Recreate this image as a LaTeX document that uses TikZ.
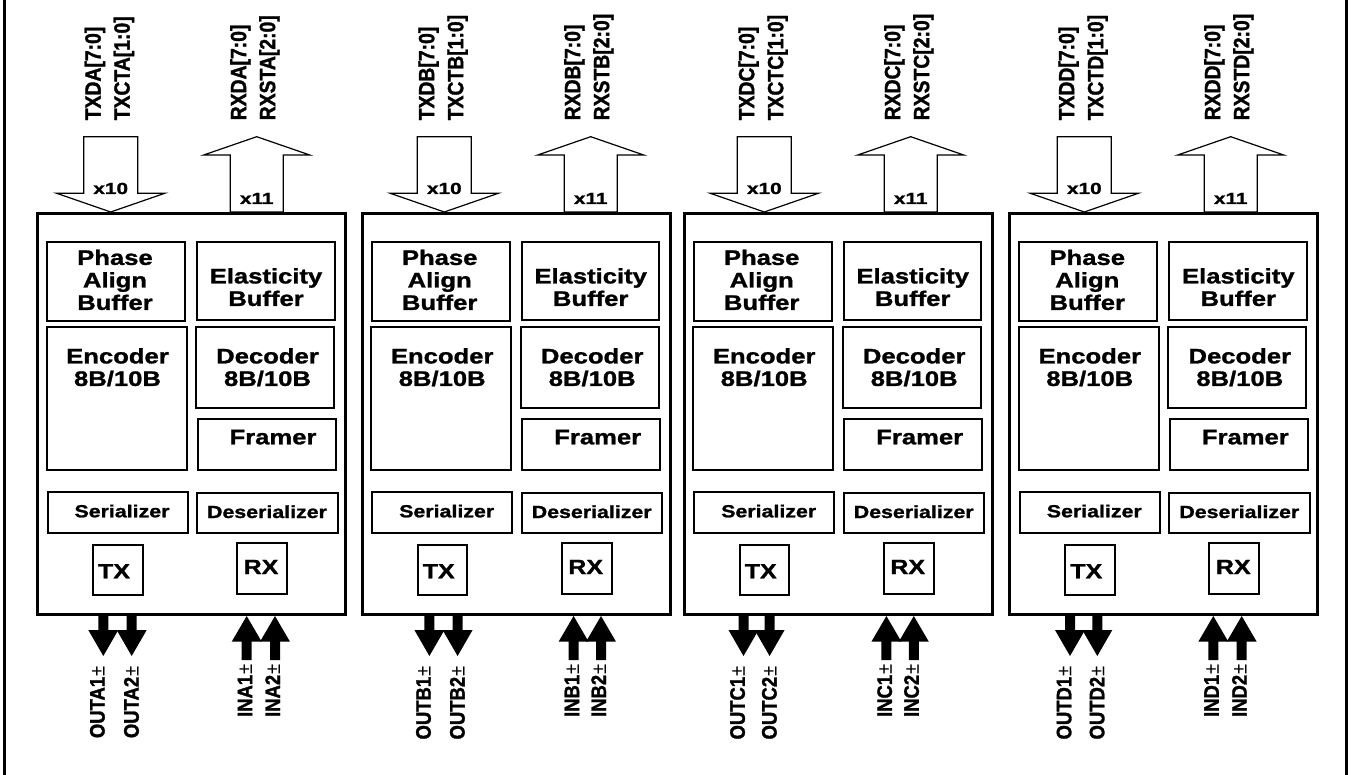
\documentclass[tikz,border=0pt]{standalone}
\usepackage{fontspec}
\setmainfont{Liberation Sans}
\newfontfamily\hfont{Liberation Sans}[FakeStretch=1.22, BoldFeatures={FakeBold=1.3}]
\newfontfamily\rfont{Liberation Sans}[FakeStretch=0.88, BoldFeatures={FakeBold=1.4}]
\newfontfamily\xfont{Liberation Sans}[FakeStretch=1.3, BoldFeatures={FakeBold=1.3}]
\tikzset{
 modbox/.style={draw, line width=3pt, rectangle, inner sep=0pt, anchor=north west},
 blk/.style={draw, line width=2pt, rectangle, inner sep=0pt, anchor=north west},
 ttl/.style={inner sep=0pt, align=center, anchor=north, font=\hfont\bfseries\fontsize{21}{22.5}\selectfont},
 sml/.style={inner sep=0pt, anchor=base, font=\hfont\bfseries\fontsize{17.5}{20}\selectfont},
 txrx/.style={inner sep=0pt, anchor=base, font=\hfont\bfseries\fontsize{20.5}{22}\selectfont},
 mult/.style={inner sep=0pt, anchor=base, font=\xfont\bfseries\fontsize{16}{18}\selectfont},
 toplbl/.style={inner sep=0pt, rotate=90, anchor=base west, font=\rfont\bfseries\fontsize{22}{24}\selectfont},
 botlbl/.style={inner sep=0pt, rotate=90, anchor=base east, font=\rfont\bfseries\fontsize{21}{24}\selectfont},
 busarrow/.style={draw, fill=white, line width=1.2pt, line join=miter},
 pinarrow/.style={fill=black},
 frameline/.style={line width=2.7pt},
}
\begin{document}
\begin{tikzpicture}[x=1pt,y=-1pt]
\useasboundingbox (0,0) rectangle (1351,775);
\draw[frameline] (4.7,0) -- (4.7,775);
\draw[frameline] (1346.7,0) -- (1346.7,775);
\foreach \Ltr/\xo/\dc/\uc/\oa/\ob/\ia/\ib in {
  A/36/110.7/256.7/103.3/131.7/246.7/275,
  B/360.7/444.3/590.7/429.4/457.6/573.6/601.0,
  C/682.7/764.3/910.7/743.5/769.6/886.4/913.8,
  D/1008.3/1084.3/1230.7/1070/1097.3/1213.3/1241.7}{
  % bus arrows
  \path[busarrow] (\dc-27,136.7) -- (\dc+27,136.7) -- (\dc+27,193.3) -- (\dc+54,193.3)
     -- (\dc,212) -- (\dc-54,193.3) -- (\dc-27,193.3) -- cycle;
  \path[busarrow] (\uc,136.7) -- (\uc+53,155) -- (\uc+26.5,155) -- (\uc+26.5,212)
     -- (\uc-26.5,212) -- (\uc-26.5,155) -- (\uc-53,155) -- cycle;
  \node[mult] (xa\Ltr) at (\dc,194) {x10};
  \node[mult] (xb\Ltr) at (\uc,204) {x11};
  % top labels
  \node[toplbl] (td\Ltr) at (\dc-18+7.9,120.5) {TXD\Ltr[7:0]};
  \node[toplbl] (tc\Ltr) at (\dc+11+7.9,120.5) {TXCT\Ltr[1:0]};
  \node[toplbl] (rd\Ltr) at (\uc-18.5+7.9,120.5) {RXD\Ltr[7:0]};
  \node[toplbl] (rs\Ltr) at (\uc+10.5+7.9,120.5) {RXST\Ltr[2:0]};
  % module box
  \node[modbox, minimum width=308pt, minimum height=401pt] (mod\Ltr) at (\xo,212) {};
  \node[blk, minimum width=138pt, minimum height=79pt] (pab\Ltr) at (\xo+10,241) {};
  \node[blk, minimum width=137.5pt, minimum height=78.5pt] (eb\Ltr) at (\xo+160,241) {};
  \node[blk, minimum width=140pt, minimum height=143pt] (enc\Ltr) at (\xo+9.5,326) {};
  \node[blk, minimum width=138pt, minimum height=80.5pt] (dec\Ltr) at (\xo+159,326.5) {};
  \node[blk, minimum width=138pt, minimum height=51pt] (frm\Ltr) at (\xo+160.5,418) {};
  \node[blk, minimum width=140pt, minimum height=41pt] (ser\Ltr) at (\xo+10.5,491) {};
  \node[blk, minimum width=140.5pt, minimum height=40pt] (des\Ltr) at (\xo+160,491.5) {};
  \node[blk, minimum width=49.5pt, minimum height=50pt] (tx\Ltr) at (\xo+56,543.5) {};
  \node[blk, minimum width=50pt, minimum height=50.5pt] (rx\Ltr) at (\xo+200,542) {};
  % texts
  \node[ttl] at (\xo+79,249.5) {Phase\\Align\\Buffer};
  \node[ttl] at (\xo+230,268) {Elasticity\\Buffer};
  \node[ttl] at (\xo+81.5,348) {Encoder\\8B/10B};
  \node[ttl] at (\xo+231.5,348) {Decoder\\8B/10B};
  \node[ttl, anchor=base] at (\xo+237,444.3) {Framer};
  \node[sml] at (\xo+86,517.3) {Serializer};
  \node[sml] at (\xo+231,518) {Deserializer};
  \node[txrx] at (\xo+78,578.3) {TX};
  \node[txrx] at (\xo+225,574) {RX};
  % pin arrows
  \path[pinarrow] (\oa-5,613) -- (\oa+5,613) -- (\oa+5,630) -- (\oa+15,630) -- (\oa,656)
     -- (\oa-15,630) -- (\oa-5,630) -- cycle;
  \path[pinarrow] (\ob-5,613) -- (\ob+5,613) -- (\ob+5,630) -- (\ob+15,630) -- (\ob,656)
     -- (\ob-15,630) -- (\ob-5,630) -- cycle;
  \path[pinarrow] (\ia,616) -- (\ia+15,641.7) -- (\ia+5,641.7) -- (\ia+5,660) -- (\ia-5,660)
     -- (\ia-5,641.7) -- (\ia-15,641.7) -- cycle;
  \path[pinarrow] (\ib,616) -- (\ib+15,641.7) -- (\ib+5,641.7) -- (\ib+5,660) -- (\ib-5,660)
     -- (\ib-5,641.7) -- (\ib-15,641.7) -- cycle;
  % pin labels
  \node[botlbl] (o1\Ltr) at (\oa+1.3,666.5) {OUT\Ltr1{\mdseries ±}};
  \node[botlbl] (o2\Ltr) at (\ob+7,666.5) {OUT\Ltr2{\mdseries ±}};
  \node[botlbl] (i1\Ltr) at (\ia+5.5,664.5) {IN\Ltr1{\mdseries ±}};
  \node[botlbl] (i2\Ltr) at (\ib+5,664.5) {IN\Ltr2{\mdseries ±}};
}
\end{tikzpicture}
\end{document}
